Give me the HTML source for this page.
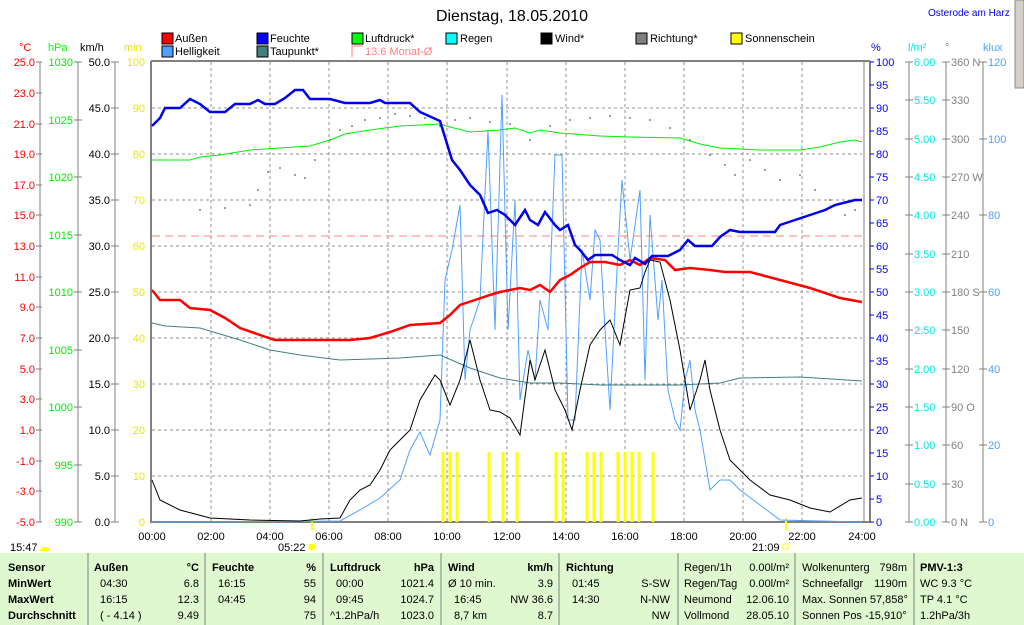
<!DOCTYPE html>
<html><head><meta charset="utf-8"><style>
body{margin:0;background:#fff;width:1024px;height:625px;overflow:hidden;font-family:"Liberation Sans",sans-serif}
svg{position:absolute;left:0;top:0}
text{font-family:"Liberation Sans",sans-serif;font-size:11px}
.b{font-weight:bold}
</style></head><body>
<svg width="1024" height="625" viewBox="0 0 1024 625">
<rect x="1015" y="0" width="9" height="88" fill="#d4d0c8" stroke="#888"/>
<text x="512" y="21" text-anchor="middle" style="font-size:16px">Dienstag, 18.05.2010</text>
<text x="928" y="16" fill="#0000ff" style="font-size:10px">Osterode am Harz</text>
<!-- legend -->
<g stroke="#000" stroke-width="1">
<rect x="162" y="33" width="11" height="11" fill="#ff0000"/>
<rect x="257" y="33" width="11" height="11" fill="#0000ff"/>
<rect x="352" y="33" width="11" height="11" fill="#00ff00"/>
<rect x="446" y="33" width="11" height="11" fill="#00ffff"/>
<rect x="541" y="33" width="11" height="11" fill="#000"/>
<rect x="636" y="33" width="11" height="11" fill="#808080"/>
<rect x="731" y="33" width="11" height="11" fill="#ffff00"/>
<rect x="162" y="46" width="11" height="11" fill="#50a0ff"/>
<rect x="257" y="46" width="11" height="11" fill="#408080"/>
</g>
<path d="M352 57V46H363M363 57" stroke="#ff8080" fill="none"/>
<g>
<text x="175" y="42">Außen</text><text x="270" y="42">Feuchte</text><text x="365" y="42">Luftdruck*</text><text x="460" y="42">Regen</text>
<text x="555" y="42">Wind*</text><text x="650" y="42">Richtung*</text><text x="745" y="42">Sonnenschein</text>
<text x="175" y="55">Helligkeit</text><text x="270" y="55">Taupunkt*</text><text x="365" y="55" fill="#ff8080">13.6 Monat-Ø</text>
</g>
<!-- unit headers -->
<text x="19" y="51" fill="#ff0000">°C</text><text x="48" y="51" fill="#00ff00">hPa</text><text x="80" y="51">km/h</text><text x="124" y="51" fill="#e8e800">min</text>
<text x="871" y="51" fill="#0000ff">%</text><text x="908" y="51" fill="#00e8e8">l/m²</text><text x="945" y="51" fill="#808080">°</text><text x="983" y="51" fill="#50a0ff">klux</text>
<!-- axes lines -->
<g stroke="#808080" stroke-width="1">
<line x1="40" y1="62" x2="40" y2="522"/><line x1="78" y1="62" x2="78" y2="522"/><line x1="115" y1="62" x2="115" y2="522"/>
<line x1="909" y1="62" x2="909" y2="522"/><line x1="946" y1="62" x2="946" y2="522"/><line x1="983" y1="62" x2="983" y2="522"/>
<line x1="864" y1="62" x2="864" y2="522"/>
</g>
<line x1="151" y1="61" x2="870" y2="61" stroke="#808080" stroke-width="2"/>
<line x1="151" y1="61" x2="151" y2="523" stroke="#808080" stroke-width="2"/>
<line x1="151" y1="522" x2="870" y2="522" stroke="#808080" stroke-width="2"/>
<line x1="870" y1="61" x2="870" y2="523" stroke="#808080" stroke-width="2"/>
<!-- grid -->
<g stroke="#909090" stroke-dasharray="3,3" stroke-width="1">
<line x1="211" y1="62" x2="211" y2="522"/><line x1="270" y1="62" x2="270" y2="522"/><line x1="329" y1="62" x2="329" y2="522"/><line x1="388" y1="62" x2="388" y2="522"/><line x1="447" y1="62" x2="447" y2="522"/><line x1="507" y1="62" x2="507" y2="522"/><line x1="566" y1="62" x2="566" y2="522"/><line x1="625" y1="62" x2="625" y2="522"/><line x1="684" y1="62" x2="684" y2="522"/><line x1="743" y1="62" x2="743" y2="522"/><line x1="802" y1="62" x2="802" y2="522"/>
<line x1="152" y1="108" x2="862" y2="108"/><line x1="152" y1="154" x2="862" y2="154"/><line x1="152" y1="200" x2="862" y2="200"/><line x1="152" y1="246" x2="862" y2="246"/><line x1="152" y1="292" x2="862" y2="292"/><line x1="152" y1="338" x2="862" y2="338"/><line x1="152" y1="384" x2="862" y2="384"/><line x1="152" y1="430" x2="862" y2="430"/><line x1="152" y1="476" x2="862" y2="476"/>
</g>
<line x1="152" y1="236" x2="862" y2="236" stroke="#ff8080" stroke-dasharray="8,5"/>
<!-- left ticks °C -->
<g fill="#ff0000" text-anchor="end">
<text x="35" y="66">25.0</text><text x="35" y="97">23.0</text><text x="35" y="128">21.0</text><text x="35" y="158">19.0</text><text x="35" y="189">17.0</text><text x="35" y="219">15.0</text><text x="35" y="250">13.0</text><text x="35" y="281">11.0</text><text x="35" y="311">9.0</text><text x="35" y="342">7.0</text><text x="35" y="373">5.0</text><text x="35" y="403">3.0</text><text x="35" y="434">1.0</text><text x="35" y="465">-1.0</text><text x="35" y="495">-3.0</text><text x="35" y="526">-5.0</text>
</g>
<g fill="#00ee00" text-anchor="end">
<text x="73" y="66">1030</text><text x="73" y="124">1025</text><text x="73" y="181">1020</text><text x="73" y="239">1015</text><text x="73" y="296">1010</text><text x="73" y="354">1005</text><text x="73" y="411">1000</text><text x="73" y="469">995</text><text x="73" y="526">990</text>
</g>
<g text-anchor="end">
<text x="110" y="66">50.0</text><text x="110" y="112">45.0</text><text x="110" y="158">40.0</text><text x="110" y="204">35.0</text><text x="110" y="250">30.0</text><text x="110" y="296">25.0</text><text x="110" y="342">20.0</text><text x="110" y="388">15.0</text><text x="110" y="434">10.0</text><text x="110" y="480">5.0</text><text x="110" y="526">0.0</text>
</g>
<g fill="#e8e800" text-anchor="end">
<text x="145" y="66">100</text><text x="145" y="112">90</text><text x="145" y="158">80</text><text x="145" y="204">70</text><text x="145" y="250">60</text><text x="145" y="296">50</text><text x="145" y="342">40</text><text x="145" y="388">30</text><text x="145" y="434">20</text><text x="145" y="480">10</text><text x="145" y="526">0</text>
</g>
<g stroke="#808080">
<path d="M36 62h6M36 93h6M36 124h6M36 154h6M36 185h6M36 215h6M36 246h6M36 277h6M36 307h6M36 338h6M36 369h6M36 399h6M36 430h6M36 461h6M36 491h6M36 522h6"/>
<path d="M74 62h8M74 120h8M74 177h8M74 235h8M74 292h8M74 350h8M74 407h8M74 465h8M74 522h8"/>
<path d="M111 62h8M111 108h8M111 154h8M111 200h8M111 246h8M111 292h8M111 338h8M111 384h8M111 430h8M111 476h8M111 522h8"/>
<path d="M905 62h8M905 100h8M905 139h8M905 177h8M905 215h8M905 254h8M905 292h8M905 330h8M905 369h8M905 407h8M905 445h8M905 484h8M905 522h8"/>
<path d="M942 62h8M942 100h8M942 139h8M942 177h8M942 215h8M942 254h8M942 292h8M942 330h8M942 369h8M942 407h8M942 445h8M942 484h8M942 522h8"/>
<path d="M979 62h8M979 139h8M979 215h8M979 292h8M979 369h8M979 445h8M979 522h8"/>
</g>
<path d="M870 62h4M870 85h4M870 108h4M870 131h4M870 154h4M870 177h4M870 200h4M870 223h4M870 246h4M870 269h4M870 292h4M870 315h4M870 338h4M870 361h4M870 384h4M870 407h4M870 430h4M870 453h4M870 476h4M870 499h4M870 522h4" stroke="#0000ff"/>
<g fill="#0000ff">
<text x="876" y="66">100</text><text x="876" y="89">95</text><text x="876" y="112">90</text><text x="876" y="135">85</text><text x="876" y="158">80</text><text x="876" y="181">75</text><text x="876" y="204">70</text><text x="876" y="227">65</text><text x="876" y="250">60</text><text x="876" y="273">55</text><text x="876" y="296">50</text><text x="876" y="319">45</text><text x="876" y="342">40</text><text x="876" y="365">35</text><text x="876" y="388">30</text><text x="876" y="411">25</text><text x="876" y="434">20</text><text x="876" y="457">15</text><text x="876" y="480">10</text><text x="876" y="503">5</text><text x="876" y="526">0</text>
</g>
<g fill="#00e8e8">
<text x="914" y="66">6.00</text><text x="914" y="104">5.50</text><text x="914" y="143">5.00</text><text x="914" y="181">4.50</text><text x="914" y="219">4.00</text><text x="914" y="258">3.50</text><text x="914" y="296">3.00</text><text x="914" y="334">2.50</text><text x="914" y="373">2.00</text><text x="914" y="411">1.50</text><text x="914" y="449">1.00</text><text x="914" y="488">0.50</text><text x="914" y="526">0.00</text>
</g>
<g fill="#808080">
<text x="951" y="66">360 N</text><text x="951" y="104">330</text><text x="951" y="143">300</text><text x="951" y="181">270 W</text><text x="951" y="219">240</text><text x="951" y="258">210</text><text x="951" y="296">180 S</text><text x="951" y="334">150</text><text x="951" y="373">120</text><text x="951" y="411">90  O</text><text x="951" y="449">60</text><text x="951" y="488">30</text><text x="951" y="526">0    N</text>
</g>
<g fill="#50a0ff">
<text x="988" y="66">120</text><text x="988" y="143">100</text><text x="988" y="219">80</text><text x="988" y="296">60</text><text x="988" y="373">40</text><text x="988" y="449">20</text><text x="988" y="526">0</text>
</g>
<!-- x labels -->
<g text-anchor="middle">
<text x="152" y="540">00:00</text><text x="211" y="540">02:00</text><text x="270" y="540">04:00</text><text x="329" y="540">06:00</text><text x="388" y="540">08:00</text><text x="447" y="540">10:00</text><text x="507" y="540">12:00</text><text x="566" y="540">14:00</text><text x="625" y="540">16:00</text><text x="684" y="540">18:00</text><text x="743" y="540">20:00</text><text x="802" y="540">22:00</text><text x="862" y="540">24:00</text>
</g>
<text x="10" y="551">15:47</text><path d="M40 551a5 4 0 0 1 10 0z" fill="#ffff00"/>
<text x="278" y="551">05:22</text><circle cx="312" cy="547" r="3.5" fill="#ffff00"/>
<text x="752" y="551">21:09</text><rect x="783" y="544" width="5" height="5" fill="none" stroke="#ffff00"/>
<line x1="312" y1="518" x2="312" y2="530" stroke="#ffff00" stroke-width="2"/>
<line x1="786" y1="518" x2="786" y2="530" stroke="#ffff00" stroke-width="2"/>
<!-- sunshine -->
<g stroke="#ffff00" stroke-width="3">
<path d="M443 452V522M450 452V522M457 452V522M489 452V522M503 452V522M517 452V522M556 452V522M563 452V522M587 452V522M594 452V522M601 452V522M618 452V522M625 452V522M632 452V522M639 452V522M653 452V522"/>
</g>
<!-- richtung dots -->
<g fill="#808080">
<circle cx="200" cy="210" r="1"/><circle cx="225" cy="208" r="1"/><circle cx="250" cy="205" r="1"/><circle cx="258" cy="190" r="1"/><circle cx="268" cy="172" r="1"/><circle cx="280" cy="168" r="1"/><circle cx="295" cy="175" r="1"/><circle cx="305" cy="178" r="1"/><circle cx="315" cy="160" r="1"/><circle cx="330" cy="140" r="1"/><circle cx="340" cy="130" r="1"/><circle cx="352" cy="126" r="1"/><circle cx="365" cy="120" r="1"/><circle cx="380" cy="118" r="1"/><circle cx="395" cy="114" r="1"/><circle cx="410" cy="116" r="1"/><circle cx="425" cy="118" r="1"/><circle cx="440" cy="126" r="1"/><circle cx="455" cy="120" r="1"/><circle cx="470" cy="118" r="1"/><circle cx="490" cy="122" r="1"/><circle cx="510" cy="124" r="1"/><circle cx="530" cy="140" r="1"/><circle cx="550" cy="126" r="1"/><circle cx="570" cy="120" r="1"/><circle cx="590" cy="118" r="1"/><circle cx="610" cy="116" r="1"/><circle cx="630" cy="118" r="1"/><circle cx="650" cy="120" r="1"/><circle cx="670" cy="128" r="1"/><circle cx="690" cy="140" r="1"/><circle cx="710" cy="155" r="1"/><circle cx="725" cy="165" r="1"/><circle cx="735" cy="175" r="1"/><circle cx="750" cy="160" r="1"/><circle cx="765" cy="170" r="1"/><circle cx="780" cy="180" r="1"/><circle cx="800" cy="175" r="1"/><circle cx="815" cy="190" r="1"/><circle cx="830" cy="200" r="1"/><circle cx="845" cy="215" r="1"/><circle cx="855" cy="210" r="1"/>
</g>
<!-- helligkeit -->
<polyline fill="none" stroke="#50a0ff" stroke-width="1" points="152,522 340,521 360,510 380,498 400,480 410,450 420,432 430,455 440,420 445,280 452,250 460,205 465,380 470,330 480,300 488,130 495,330 502,95 508,330 515,200 520,400 528,350 535,380 540,300 548,330 555,155 562,155 568,420 575,420 582,250 590,300 595,230 600,240 605,330 610,410 618,250 622,180 630,260 640,190 645,380 650,215 658,320 662,280 668,390 675,420 680,430 685,380 690,360 695,410 700,430 710,490 720,480 730,480 740,490 760,505 780,520 862,522"/>
<!-- taupunkt -->
<polyline fill="none" stroke="#408080" stroke-width="1" points="152,323 165,326 200,328 240,340 270,350 300,355 340,360 400,358 440,355 470,368 500,378 530,383 560,383 600,385 640,385 680,385 720,383 740,378 800,377 862,381"/>
<!-- luftdruck -->
<polyline fill="none" stroke="#00ee00" stroke-width="1" points="152,160 190,160 200,157 220,155 250,150 280,148 310,146 330,140 345,134 370,130 400,126 440,124 450,127 470,132 500,130 515,128 530,133 540,130 560,133 600,136 630,137 680,138 700,144 720,148 760,150 800,150 820,147 840,142 855,140 862,142"/>
<!-- wind -->
<polyline fill="none" stroke="#000" stroke-width="1" points="152,480 160,500 180,510 210,518 250,520 300,521 320,519 340,518 350,500 360,490 370,485 380,470 390,450 400,440 410,430 420,400 435,375 440,380 450,405 460,380 470,340 480,380 490,410 500,412 510,418 520,435 530,360 535,380 545,350 555,390 565,410 572,430 580,390 590,345 600,330 610,320 620,345 630,290 640,288 645,272 650,260 660,262 670,300 680,350 690,410 700,380 705,360 710,390 720,430 730,460 750,480 770,495 790,500 810,508 830,512 850,500 862,498"/>
<!-- aussen -->
<polyline fill="none" stroke="#ff0000" stroke-width="2.5" points="152,290 160,300 180,300 190,308 210,310 225,318 240,328 260,335 275,340 350,340 370,338 390,332 410,325 440,323 450,315 460,305 475,300 490,295 500,292 510,290 520,288 530,290 540,285 550,292 560,280 570,275 580,268 590,262 605,262 620,265 630,260 640,265 650,258 665,260 675,270 690,268 710,270 725,272 750,272 780,280 810,288 840,298 862,302"/>
<!-- feuchte -->
<polyline fill="none" stroke="#0000ee" stroke-width="2.5" points="152,126 160,118 165,108 180,108 190,99 200,104 210,112 225,112 235,104 250,104 258,100 265,104 275,104 285,98 295,90 303,90 310,99 330,99 345,103 370,103 380,100 385,103 410,103 420,112 440,121 452,160 460,170 470,185 480,195 488,213 497,210 505,215 515,225 525,210 530,220 538,225 545,212 555,225 560,230 568,225 575,245 580,250 588,260 595,255 612,255 620,260 630,265 635,258 645,264 652,256 668,256 680,250 688,240 695,246 712,246 720,237 730,230 740,232 775,232 780,225 795,220 810,215 825,210 835,205 855,200 862,200"/>
<!-- table -->
<rect x="0" y="553" width="1024" height="72" fill="#e0f8d0"/>
<g stroke="#808080"><path d="M88 553V625M205 553V625M323 553V625M441 553V625M559 553V625M678 553V625M795 553V625M914 553V625"/></g>
<g class="b">
<text x="8" y="571" class="b">Sensor</text><text x="8" y="587" class="b">MinWert</text><text x="8" y="603" class="b">MaxWert</text><text x="8" y="619" class="b">Durchschnitt</text>
<text x="94" y="571" class="b">Außen</text><text x="199" y="571" class="b" text-anchor="end">°C</text>
<text x="212" y="571" class="b">Feuchte</text><text x="316" y="571" class="b" text-anchor="end">%</text>
<text x="330" y="571" class="b">Luftdruck</text><text x="434" y="571" class="b" text-anchor="end">hPa</text>
<text x="448" y="571" class="b">Wind</text><text x="553" y="571" class="b" text-anchor="end">km/h</text>
<text x="566" y="571" class="b">Richtung</text><text x="920" y="571" class="b">PMV-1:3</text>
</g>
<g>
<text x="100" y="587">04:30</text><text x="199" y="587" text-anchor="end">6.8</text>
<text x="100" y="603">16:15</text><text x="199" y="603" text-anchor="end">12.3</text>
<text x="100" y="619">( - 4.14 )</text><text x="199" y="619" text-anchor="end">9.49</text>
<text x="218" y="587">16:15</text><text x="316" y="587" text-anchor="end">55</text>
<text x="218" y="603">04:45</text><text x="316" y="603" text-anchor="end">94</text>
<text x="316" y="619" text-anchor="end">75</text>
<text x="336" y="587">00:00</text><text x="434" y="587" text-anchor="end">1021.4</text>
<text x="336" y="603">09:45</text><text x="434" y="603" text-anchor="end">1024.7</text>
<text x="330" y="619">^1.2hPa/h</text><text x="434" y="619" text-anchor="end">1023.0</text>
<text x="448" y="587">Ø 10 min.</text><text x="553" y="587" text-anchor="end">3.9</text>
<text x="454" y="603">16:45</text><text x="553" y="603" text-anchor="end">NW 36.6</text>
<text x="454" y="619">8,7 km</text><text x="553" y="619" text-anchor="end">8.7</text>
<text x="572" y="587">01:45</text><text x="670" y="587" text-anchor="end">S-SW</text>
<text x="572" y="603">14:30</text><text x="670" y="603" text-anchor="end">N-NW</text>
<text x="670" y="619" text-anchor="end">NW</text>
<text x="684" y="571">Regen/1h</text><text x="789" y="571" text-anchor="end">0.00l/m²</text>
<text x="684" y="587">Regen/Tag</text><text x="789" y="587" text-anchor="end">0.00l/m²</text>
<text x="684" y="603">Neumond</text><text x="789" y="603" text-anchor="end">12.06.10</text>
<text x="684" y="619">Vollmond</text><text x="789" y="619" text-anchor="end">28.05.10</text>
<text x="802" y="571">Wolkenunterg</text><text x="907" y="571" text-anchor="end">798m</text>
<text x="802" y="587">Schneefallgr</text><text x="907" y="587" text-anchor="end">1190m</text>
<text x="802" y="603">Max. Sonnen 57,858°</text>
<text x="802" y="619">Sonnen Pos  -15,910°</text>
<text x="920" y="587">WC 9.3 °C</text><text x="920" y="603">TP 4.1 °C</text><text x="920" y="619">1.2hPa/3h</text>
</g>
</svg>
</body></html>
